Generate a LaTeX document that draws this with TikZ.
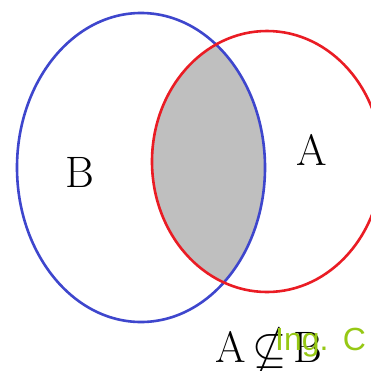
\documentclass[tikz,border=0pt]{standalone}
\usepackage{amssymb}
\usepackage{fontspec}
\newfontfamily\markfont{Liberation Sans}
\definecolor{setblue}{RGB}{62, 70, 205}
\definecolor{setred}{RGB}{234, 28, 36}
\definecolor{marklime}{RGB}{150, 200, 20}

\begin{document}
\begin{tikzpicture}[
        x=1pt, y=-1pt,
        setline/.style={line width=2.6pt},
        setlabel/.style={inner sep=0pt, font=\fontsize{44}{44}\selectfont},
        wmark/.style={inner sep=0pt, anchor=base west, text=marklime, font=\markfont\fontsize{32}{32}\selectfont},
    ]
        \useasboundingbox (0, 0) rectangle (371, 370);
        \clip (0, 0) rectangle (371, 370);
        \fill[white] (0, 0) rectangle (371, 370);

        % Set centres
        \coordinate (cB) at (141, 167.5);
        \coordinate (cA) at (267, 161.5);

        % Shaded intersection
        \begin{scope}
            \clip (cB) ellipse [x radius=124, y radius=154.5];
            \fill[gray!50] (cA) ellipse [x radius=115, y radius=130.5];
        \end{scope}

        % Outlines
        \draw[setline, setblue] (cB) ellipse [x radius=124, y radius=154.5];
        \draw[setline, setred] (cA) ellipse [x radius=115, y radius=130.5];

        % Labels
        \node[setlabel] (labB) at (80, 172) {B};
        \node[setlabel] (labA) at (312, 150) {A};
        \node[setlabel, anchor=base west] (rel) at (215, 362) {$\mathrm{A}\nsubseteq\mathrm{B}$};

        % Watermark
        \node[wmark] (wm) at (275, 350) {Ing.\hspace{0.45em}C};
    \end{tikzpicture}
\end{document}
